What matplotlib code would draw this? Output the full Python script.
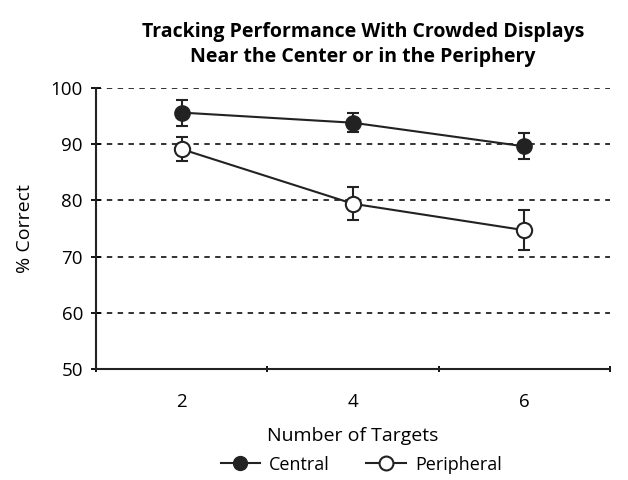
import matplotlib.pyplot as plt
from matplotlib.lines import Line2D

plt.rcParams['font.family'] = ['Open Sans', 'DejaVu Sans']

targets = [2, 4, 6]
central = [95.6, 93.8, 89.6]
central_err = [2.3, 1.7, 2.3]
peripheral = [89.1, 79.4, 74.7]
peripheral_err = [2.1, 2.9, 3.5]

fig = plt.figure(figsize=(6.28, 4.8), dpi=100)
ax = fig.add_axes([0.153, 0.231, 0.818, 0.586])

for yv in [60, 70, 80, 90, 100]:
    ax.axhline(yv, color='#222222', lw=1.3, ls=(0, (3, 3)), zorder=1)

ax.errorbar(targets, central, yerr=central_err, color='#222222', lw=1.5,
            marker='o', ms=11, mfc='#222222', mec='#222222', capsize=4,
            capthick=1.5, elinewidth=1.5, zorder=3)
ax.errorbar(targets, peripheral, yerr=peripheral_err, color='#222222', lw=1.5,
            marker='o', ms=11, mfc='white', mec='#222222', mew=1.5, capsize=4,
            capthick=1.5, elinewidth=1.5, zorder=3)

ax.set_xlim(1, 7)
ax.set_ylim(50, 100)
ax.set_xticks([1, 3, 5, 7])
ax.set_xticklabels([])
ax.set_xticks(targets, minor=True)
ax.set_xticklabels([str(t) for t in targets], minor=True)
ax.tick_params(axis='x', which='minor', length=0, pad=17, labelsize=13.5)
ax.tick_params(axis='x', which='major', length=5, direction='inout', width=1.3)
ax.set_yticks([50, 60, 70, 80, 90, 100])
ax.tick_params(axis='y', length=7, direction='inout', width=1.3, labelsize=13.5, pad=6)
for s in ['top', 'right']:
    ax.spines[s].set_visible(False)
for s in ['left', 'bottom']:
    ax.spines[s].set_linewidth(1.5)
    ax.spines[s].set_color('#222222')

ax.set_xlabel('Number of Targets', fontsize=14, labelpad=12)
ax.set_ylabel('% Correct', fontsize=14, labelpad=12)

fig.text(0.578, 0.908, 'Tracking Performance With Crowded Displays\nNear the Center or in the Periphery',
         ha='center', va='center', fontsize=14, fontweight='bold', linespacing=1.35)

handles = [
    Line2D([], [], color='#222222', lw=1.5, marker='o', ms=10, mfc='#222222'),
    Line2D([], [], color='#222222', lw=1.5, marker='o', ms=10, mfc='white', mew=1.5),
]
fig.legend(handles, ['Central', 'Peripheral'], loc='center', bbox_to_anchor=(0.575, 0.032),
           ncol=2, frameon=False, fontsize=13, handlelength=2.2, columnspacing=2, handletextpad=0.5)

fig.savefig('out.png', dpi=100)
